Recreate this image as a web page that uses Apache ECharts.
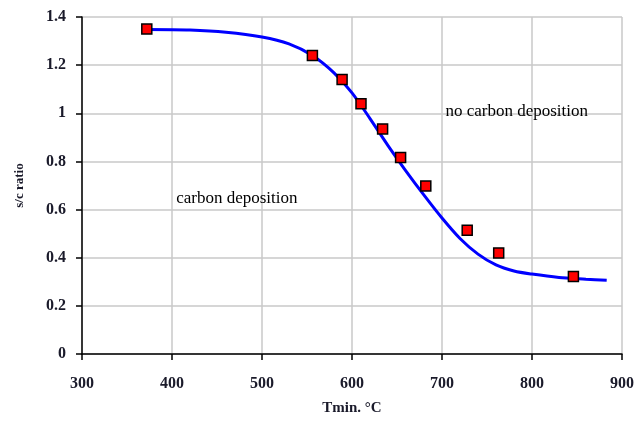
<!DOCTYPE html>
<html>
<head>
<meta charset="utf-8">
<script src="https://cdn.jsdelivr.net/npm/echarts@6/dist/echarts.min.js"></script>
<style>
  html, body { margin: 0; padding: 0; background: #fff; }
  #main { width: 641px; height: 421px; }
</style>
</head>
<body>
<div id="main"></div>
<script>
// measured points (Tmin, s/c ratio)
var measTmin = [372, 556, 589, 610, 634, 654, 682, 728, 763, 846];
var measRatio = [1.35, 1.24, 1.14, 1.04, 0.935, 0.816, 0.698, 0.514, 0.42, 0.322];

// fitted curve
var fitTmin = [372, 420, 460, 500, 530, 556, 580, 600, 620, 640, 660, 680, 700, 720, 740, 760, 780, 800, 830, 860, 883];
var fitRatio = [1.348, 1.346, 1.337, 1.317, 1.288, 1.24, 1.168, 1.085, 0.978, 0.866, 0.76, 0.66, 0.565, 0.48, 0.415, 0.37, 0.345, 0.332, 0.318, 0.311, 0.306];

// region labels
var noteText = ['no carbon deposition', 'carbon deposition'];
var noteTmin = [783, 472];
var noteRatio = [1.008, 0.645];

function pairs(xs, ys) {
    var out = [];
    for (var i = 0; i < xs.length; i++) out.push([xs[i], ys[i]]);
    return out;
}

var serif = '"Liberation Serif", "DejaVu Serif", serif';
var txt = '#1a1a2a';

var myChart = echarts.init(document.getElementById('main'));
var option = {
    animation: false,
    grid: { left: 82, right: 19, top: 17, bottom: 61 },
    xAxis: {
        type: 'value',
        min: 300, max: 900, interval: 100,
        name: 'Tmin. °C',
        nameLocation: 'middle',
        nameGap: 47,
        nameTextStyle: { fontFamily: serif, fontSize: 15, fontWeight: 'bold', color: txt },
        axisLine: { onZero: false, lineStyle: { color: '#000', width: 1.5 } },
        axisTick: { show: true, inside: false, length: 6, lineStyle: { color: '#000', width: 1.5 } },
        axisLabel: { margin: 22, fontFamily: serif, fontSize: 16, fontWeight: 'bold', color: txt },
        splitLine: { show: true, lineStyle: { color: '#c8c8c8', width: 1.5 } }
    },
    yAxis: {
        type: 'value',
        min: 0, max: 1.4, interval: 0.2,
        name: 's/c ratio',
        nameLocation: 'middle',
        nameGap: 56,
        nameTextStyle: { fontFamily: serif, fontSize: 13, fontWeight: 'bold', color: txt },
        axisLine: { show: true, lineStyle: { color: '#000', width: 1.5 } },
        axisTick: { show: true, inside: false, length: 6, lineStyle: { color: '#000', width: 1.5 } },
        axisLabel: { margin: 16, fontFamily: serif, fontSize: 16, fontWeight: 'bold', color: txt },
        splitLine: { show: true, lineStyle: { color: '#c8c8c8', width: 1.5 } }
    },
    series: [
        {
            name: 'fit',
            type: 'line',
            data: pairs(fitTmin, fitRatio),
            smooth: 0.3,
            showSymbol: false,
            lineStyle: { color: '#0000ff', width: 3 },
            z: 2
        },
        {
            name: 'measured',
            type: 'scatter',
            data: pairs(measTmin, measRatio),
            symbol: 'rect',
            symbolSize: 10,
            itemStyle: { color: '#ff0000', borderColor: '#000', borderWidth: 1.5, opacity: 1 },
            z: 3
        },
        {
            name: 'notes',
            type: 'scatter',
            symbolSize: 1,
            itemStyle: { color: 'rgba(0,0,0,0)' },
            data: noteText.map(function (t, i) { return { value: [noteTmin[i], noteRatio[i]], name: t }; }),
            label: {
                show: true,
                position: 'inside',
                formatter: '{b}',
                fontFamily: serif,
                fontSize: 17,
                color: '#000',
                textBorderWidth: 0,
                opacity: 1
            },
            z: 4
        }
    ]
};
myChart.setOption(option);
</script>
</body>
</html>
